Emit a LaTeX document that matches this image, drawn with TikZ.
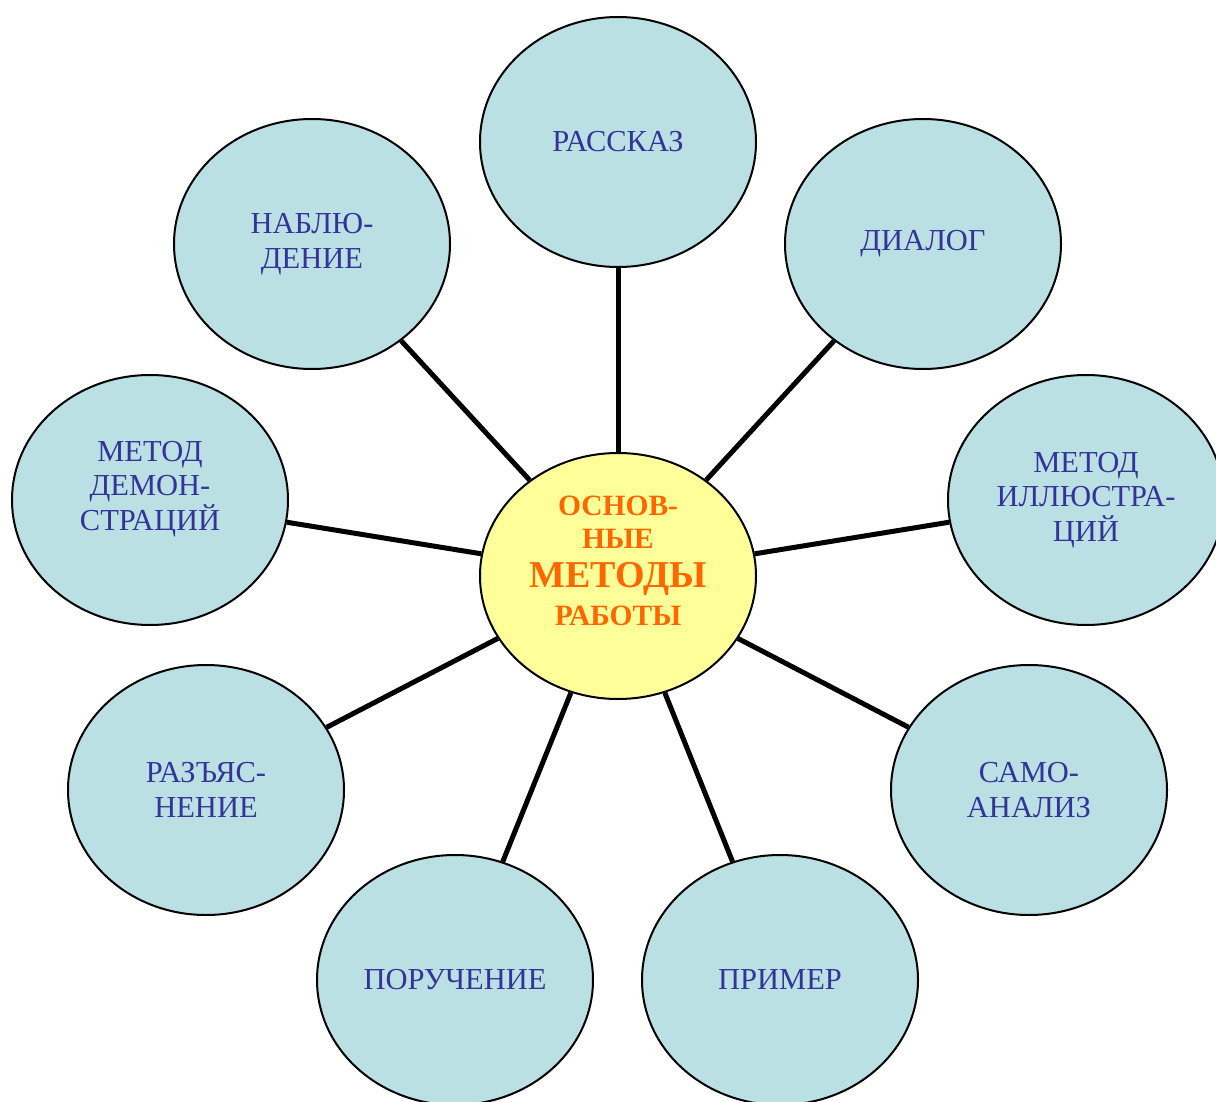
\documentclass[tikz,border=0pt]{standalone}
\usepackage{fontspec}
\setmainfont{Liberation Serif}
\usetikzlibrary{shapes.geometric}
\definecolor{bubble}{RGB}{187,224,227}
\definecolor{hub}{RGB}{255,255,153}
\definecolor{txtblue}{RGB}{51,51,153}
\definecolor{txtorange}{RGB}{255,102,0}
\tikzset{
  bubbletext/.style={text=txtblue, align=center, font=\fontsize{30.5}{34.5}\selectfont},
  outer/.style={ellipse, draw=black, line width=2pt, fill=bubble,
    minimum width=276pt, minimum height=250pt, inner sep=0pt, bubbletext},
  center/.style={ellipse, draw=black, line width=2pt, fill=hub,
    minimum width=276pt, minimum height=246pt, inner sep=0pt},
  link/.style={line width=5pt, black}
}
\begin{document}
\begin{tikzpicture}[x=1pt,y=-1pt]
\useasboundingbox (0,0) rectangle (1216,1102);
\node[center] (c) at (618,576) {};
\node[align=center, text=txtorange, font=\bfseries\fontsize{29.5}{33}\selectfont] (ct) at (618,561)
  {ОСНОВ-\\НЫЕ\\[6pt]{\fontsize{38}{40}\selectfont МЕТОДЫ}\\[5pt]РАБОТЫ};
\node[outer] (rasskaz) at (618,142) {РАССКАЗ};
\node[outer] (dialog) at (923,244) {ДИАЛОГ};
\node[outer] (nabl) at (312,244) {НАБЛЮ-\\ДЕНИЕ};
\node[outer] (illus) at (1086,500) {МЕТОД\\ИЛЛЮСТРА-\\ЦИЙ};
\node[outer, label={[bubbletext, yshift=11pt]center:МЕТОД\\ДЕМОН-\\СТРАЦИЙ}] (demo) at (150,500) {};
\node[outer] (samo) at (1029,790) {САМО-\\АНАЛИЗ};
\node[outer] (razj) at (206,790) {РАЗЪЯС-\\НЕНИЕ};
\node[outer] (poruch) at (455,980) {ПОРУЧЕНИЕ};
\node[outer] (primer) at (780,980) {ПРИМЕР};
\foreach \n in {rasskaz,dialog,nabl,illus,demo,samo,razj,poruch,primer}
  \draw[link] (c) -- (\n);
\end{tikzpicture}
\end{document}
